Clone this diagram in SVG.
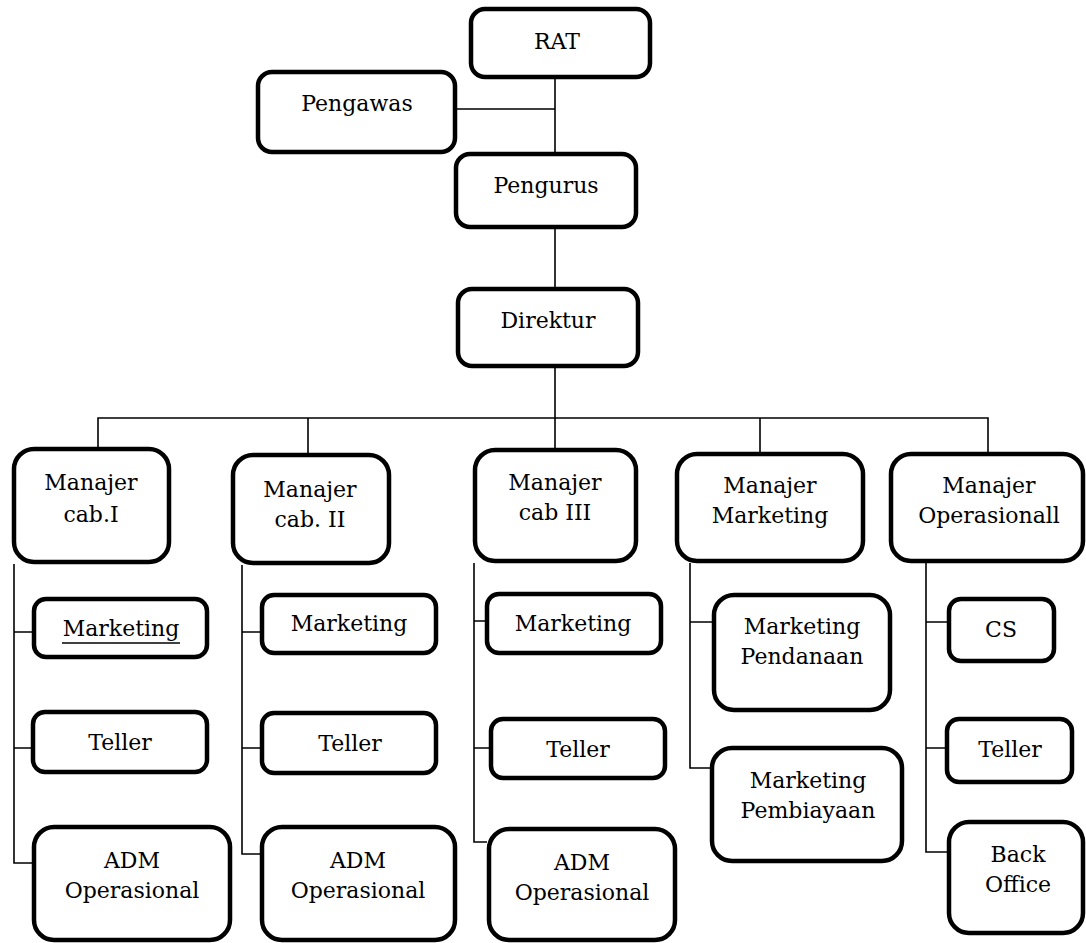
<svg xmlns="http://www.w3.org/2000/svg" width="1086" height="943" viewBox="0 0 1086 943">
<style>
.box{fill:#fff;stroke:#000;stroke-width:4.5}
.ln{fill:none;stroke:#000;stroke-width:1.6}
.t{font-family:'DejaVu Serif',serif;font-size:22px;fill:#000;text-anchor:middle}
</style>
<rect width="1086" height="943" fill="#fff"/>
<g id="connectors">
<path class="ln" d="M555 79V152M457 109H555M555 229V287M555 368V448"/>
<path class="ln" d="M98 447V418H988V452M308 418V453M760 418V452"/>
<path class="ln" d="M14 564V863H32M14 632H32M14 748H32"/>
<path class="ln" d="M242 565V854H260M242 632H260M242 748H260"/>
<path class="ln" d="M474 563V842H487M474 621H485M474 748H489"/>
<path class="ln" d="M690 563V768H710M690 622H712"/>
<path class="ln" d="M926 563V852H947M926 622H947M926 748H945"/>
</g>
<g class="t">
<g id="rat"><rect class="box" x="471" y="9" width="179" height="68" rx="14"/><text x="557" y="49">RAT</text></g>
<g id="pengawas"><rect class="box" x="258" y="72" width="197" height="80" rx="14"/><text x="357" y="111">Pengawas</text></g>
<g id="pengurus"><rect class="box" x="456" y="154" width="180" height="73" rx="14"/><text x="546" y="193">Pengurus</text></g>
<g id="direktur"><rect class="box" x="458" y="289" width="180" height="77" rx="14"/><text x="548" y="328">Direktur</text></g>
<g id="manajer-cab-1"><rect class="box" x="14" y="449" width="155" height="113" rx="20"/><text x="91" y="490">Manajer</text><text x="91" y="522">cab.I</text></g>
<g id="manajer-cab-2"><rect class="box" x="233" y="455" width="156" height="108" rx="20"/><text x="310" y="497">Manajer</text><text x="310" y="527">cab. II</text></g>
<g id="manajer-cab-3"><rect class="box" x="475" y="450" width="161" height="111" rx="20"/><text x="555" y="490">Manajer</text><text x="555" y="520">cab III</text></g>
<g id="manajer-marketing"><rect class="box" x="677" y="454" width="186" height="107" rx="20"/><text x="770" y="493">Manajer</text><text x="770" y="523">Marketing</text></g>
<g id="manajer-operasional"><rect class="box" x="891" y="454" width="192" height="107" rx="20"/><text x="989" y="493">Manajer</text><text x="989" y="523">Operasionall</text></g>
<g id="marketing-1"><rect class="box" x="34" y="599" width="173" height="58" rx="12"/><text x="121" y="636">Marketing</text><line x1="62" y1="643" x2="180" y2="643" stroke="#000" stroke-width="1.6"/></g>
<g id="marketing-2"><rect class="box" x="262" y="595" width="174" height="58" rx="12"/><text x="349" y="631">Marketing</text></g>
<g id="marketing-3"><rect class="box" x="487" y="594" width="174" height="59" rx="12"/><text x="573" y="631">Marketing</text></g>
<g id="marketing-pendanaan"><rect class="box" x="714" y="595" width="176" height="115" rx="20"/><text x="802" y="634">Marketing</text><text x="802" y="664">Pendanaan</text></g>
<g id="cs"><rect class="box" x="949" y="599" width="105" height="62" rx="12"/><text x="1001" y="637">CS</text></g>
<g id="teller-1"><rect class="box" x="33" y="712" width="174" height="60" rx="12"/><text x="120" y="750">Teller</text></g>
<g id="teller-2"><rect class="box" x="262" y="713" width="174" height="60" rx="12"/><text x="350" y="751">Teller</text></g>
<g id="teller-3"><rect class="box" x="491" y="719" width="174" height="59" rx="12"/><text x="578" y="757">Teller</text></g>
<g id="marketing-pembiayaan"><rect class="box" x="712" y="748" width="190" height="113" rx="20"/><text x="808" y="788">Marketing</text><text x="808" y="818">Pembiayaan</text></g>
<g id="teller-op"><rect class="box" x="947" y="719" width="125" height="63" rx="12"/><text x="1010" y="757">Teller</text></g>
<g id="adm-1"><rect class="box" x="34" y="827" width="196" height="113" rx="20"/><text x="132" y="868">ADM</text><text x="132" y="898">Operasional</text></g>
<g id="adm-2"><rect class="box" x="262" y="827" width="193" height="113" rx="20"/><text x="358" y="868">ADM</text><text x="358" y="898">Operasional</text></g>
<g id="adm-3"><rect class="box" x="489" y="829" width="186" height="111" rx="20"/><text x="582" y="870">ADM</text><text x="582" y="900">Operasional</text></g>
<g id="back-office"><rect class="box" x="949" y="822" width="134" height="111" rx="20"/><text x="1018" y="862">Back</text><text x="1018" y="892">Office</text></g>
</g>
</svg>
